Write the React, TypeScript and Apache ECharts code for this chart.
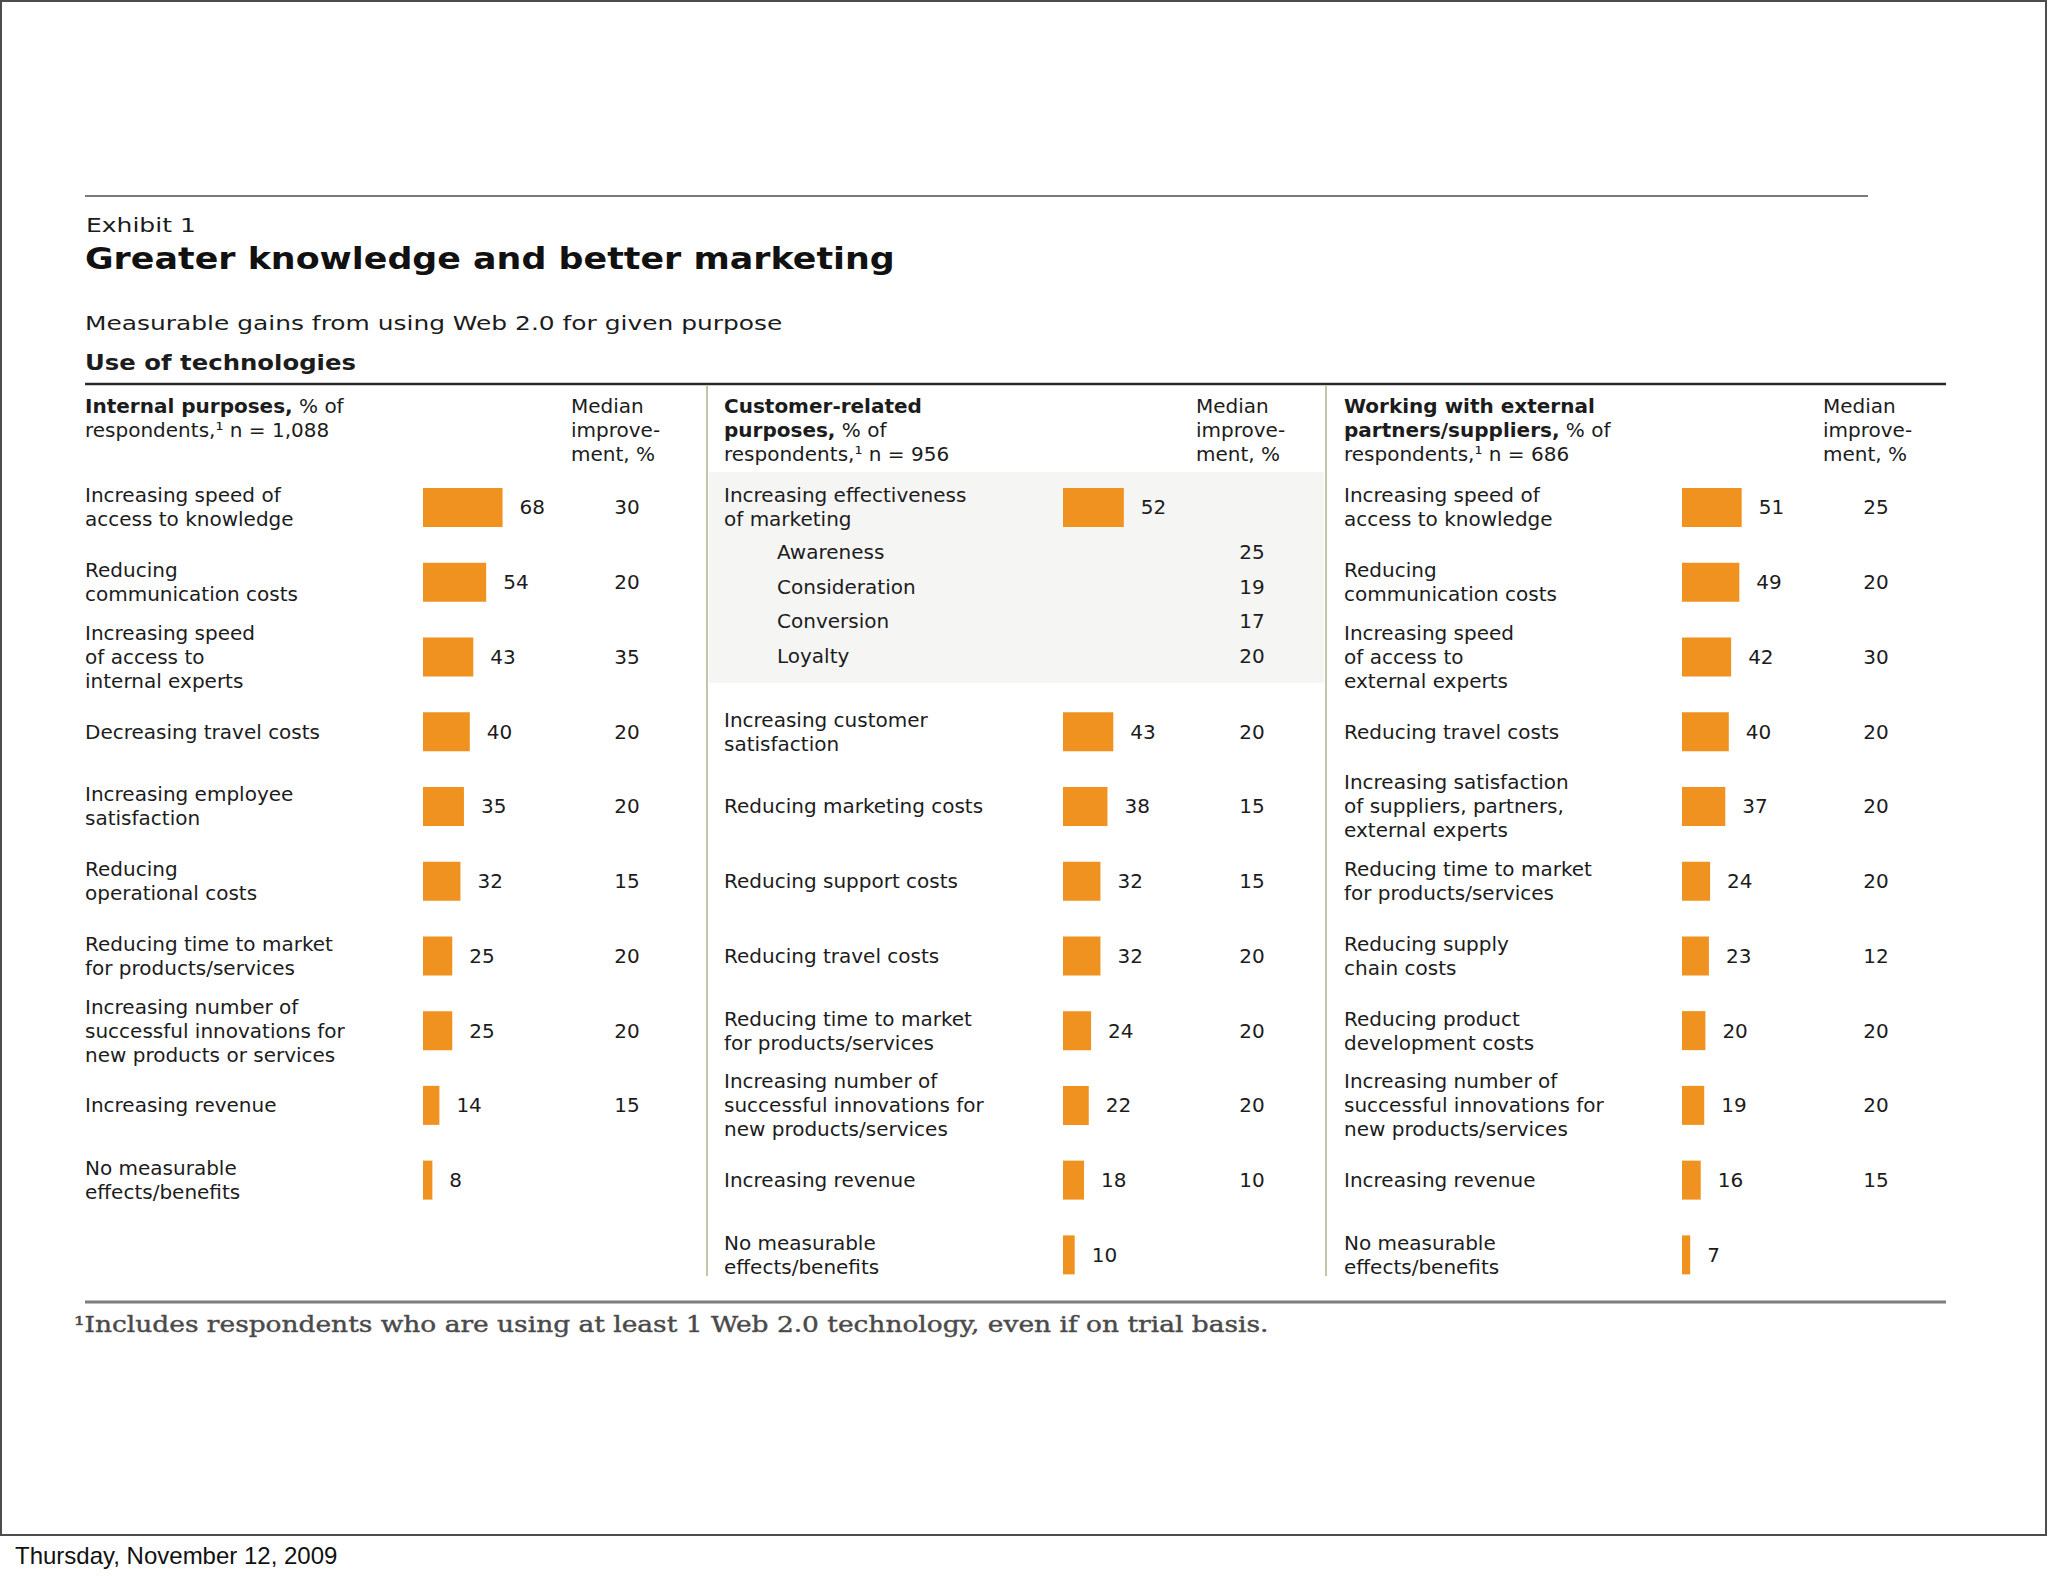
import React, { useEffect, useRef } from "react";
import * as echarts from "echarts";

// ---------------- data ----------------
const internalLabels = [
  "Increasing speed of\naccess to knowledge",
  "Reducing\ncommunication costs",
  "Increasing speed\nof access to\ninternal experts",
  "Decreasing travel costs",
  "Increasing employee\nsatisfaction",
  "Reducing\noperational costs",
  "Reducing time to market\nfor products/services",
  "Increasing number of\nsuccessful innovations for\nnew products or services",
  "Increasing revenue",
  "No measurable\neffects/benefits",
];
const internalValues = [68, 54, 43, 40, 35, 32, 25, 25, 14, 8];
const internalMedians = ["30", "20", "35", "20", "20", "15", "20", "20", "15", ""];

const customerLabels = [
  "Increasing effectiveness\nof marketing",
  "Increasing customer\nsatisfaction",
  "Reducing marketing costs",
  "Reducing support costs",
  "Reducing travel costs",
  "Reducing time to market\nfor products/services",
  "Increasing number of\nsuccessful innovations for\nnew products/services",
  "Increasing revenue",
  "No measurable\neffects/benefits",
];
const customerValues = [52, 43, 38, 32, 32, 24, 22, 18, 10];
const customerMedians = ["", "20", "15", "15", "20", "20", "20", "10", ""];

const marketingSubLabels = ["Awareness", "Consideration", "Conversion", "Loyalty"];
const marketingSubMedians = ["25", "19", "17", "20"];

const externalLabels = [
  "Increasing speed of\naccess to knowledge",
  "Reducing\ncommunication costs",
  "Increasing speed\nof access to\nexternal experts",
  "Reducing travel costs",
  "Increasing satisfaction\nof suppliers, partners,\nexternal experts",
  "Reducing time to market\nfor products/services",
  "Reducing supply\nchain costs",
  "Reducing product\ndevelopment costs",
  "Increasing number of\nsuccessful innovations for\nnew products/services",
  "Increasing revenue",
  "No measurable\neffects/benefits",
];
const externalValues = [51, 49, 42, 40, 37, 24, 23, 20, 19, 16, 7];
const externalMedians = ["25", "20", "30", "20", "20", "20", "12", "20", "20", "15", ""];

const panelHeaders = [
  "{b|Internal purposes,} % of\nrespondents,\u00b9 n = 1,088",
  "{b|Customer-related}\n{b|purposes,} % of\nrespondents,\u00b9 n = 956",
  "{b|Working with external}\n{b|partners/suppliers,} % of\nrespondents,\u00b9 n = 686",
];
const medianHeader = "Median\nimprove-\nment, %";

const exhibitText = "Exhibit 1";
const titleText = "Greater knowledge and better marketing";
const subtitleText = "Measurable gains from using Web 2.0 for given purpose";
const sectionText = "Use of technologies";
const footnoteText = "\u00b9Includes respondents who are using at least 1 Web 2.0 technology, even if on trial basis.";
const dateText = "Thursday, November 12, 2009";

// ---------------- layout / style ----------------
const FONT = "DejaVu Sans";
const BAR = "#F0921F";
const INK = "#1c1c1c";
const PX_PER_UNIT = 1.17;
const N_ROWS = 11;
const ROW_H = 74.75;
const ROW_TOP = 470;
const SUB_ROW_H = 34.67;
const SUB_TOP = 534.7;
const FS = 20;
const LH = 24;

function padTo<T>(arr: T[], n: number, fill: T): T[] {
  const a = arr.slice();
  while (a.length < n) a.push(fill);
  return a;
}
function withGap<T>(arr: T[], after: number, count: number, fill: T): T[] {
  return [...arr.slice(0, after), ...new Array(count).fill(fill), ...arr.slice(after)];
}

const panels = [
  {
    labels: padTo(internalLabels, N_ROWS, ""),
    values: padTo<number | null>(internalValues, N_ROWS, null),
    medians: padTo(internalMedians, N_ROWS, ""),
    labelX: 85, barX: 423, gridRight: 600, medianX: 627, headerMedianX: 571,
  },
  {
    labels: padTo(withGap(customerLabels, 1, 2, ""), N_ROWS, ""),
    values: padTo<number | null>(withGap<number | null>(customerValues, 1, 2, null), N_ROWS, null),
    medians: padTo(withGap(customerMedians, 1, 2, ""), N_ROWS, ""),
    labelX: 724, barX: 1063, gridRight: 1220, medianX: 1252, headerMedianX: 1196,
  },
  {
    labels: padTo(externalLabels, N_ROWS, ""),
    values: padTo<number | null>(externalValues, N_ROWS, null),
    medians: padTo(externalMedians, N_ROWS, ""),
    labelX: 1344, barX: 1682, gridRight: 1840, medianX: 1876, headerMedianX: 1823,
  },
];

const labelStyle = { fontFamily: FONT, fontSize: FS, lineHeight: LH, color: INK };

function buildOption() {
  const grid: any[] = [];
  const xAxis: any[] = [];
  const yAxis: any[] = [];
  const series: any[] = [];
  const hidden = { axisLine: { show: false }, axisTick: { show: false }, splitLine: { show: false } };

  panels.forEach((p, i) => {
    const w = p.gridRight - p.barX;
    grid.push({ left: p.barX, top: ROW_TOP, width: w, height: N_ROWS * ROW_H });
    xAxis.push({ type: "value", gridIndex: i, min: 0, max: w / PX_PER_UNIT, show: false });
    yAxis.push({
      type: "category", gridIndex: i, inverse: true, data: p.labels, ...hidden,
      axisLabel: { ...labelStyle, interval: 0, align: "left", margin: p.barX - p.labelX },
    });
    yAxis.push({
      type: "category", gridIndex: i, inverse: true, position: "right", data: p.medians, ...hidden,
      axisLabel: { ...labelStyle, interval: 0, align: "center", margin: p.medianX - p.gridRight },
    });
    series.push({
      type: "bar", xAxisIndex: i, yAxisIndex: 2 * i, data: p.values, barWidth: 39,
      itemStyle: { color: BAR },
      label: { show: true, position: "right", distance: 17, fontFamily: FONT, fontSize: FS, color: INK },
      silent: true,
    });
  });

  // sub-rows of "Increasing effectiveness of marketing"
  const p2 = panels[1];
  const gi = panels.length;
  grid.push({ left: p2.barX, top: SUB_TOP, width: p2.gridRight - p2.barX, height: marketingSubLabels.length * SUB_ROW_H });
  xAxis.push({ type: "value", gridIndex: gi, min: 0, max: 1, show: false });
  yAxis.push({
    type: "category", gridIndex: gi, inverse: true, data: marketingSubLabels, ...hidden,
    axisLabel: { ...labelStyle, interval: 0, align: "left", margin: p2.barX - 777 },
  });
  yAxis.push({
    type: "category", gridIndex: gi, inverse: true, position: "right", data: marketingSubMedians, ...hidden,
    axisLabel: { ...labelStyle, interval: 0, align: "center", margin: p2.medianX - p2.gridRight },
  });
  series.push({
    type: "bar", xAxisIndex: gi, yAxisIndex: 2 * gi, data: marketingSubLabels.map(() => null), silent: true,
  });

  const txt = (x: number, y: number, text: string, extra: any = {}, el: any = {}) => ({
    type: "text", x, y, silent: true, ...el,
    style: { text, fontFamily: FONT, fontSize: FS, fill: INK, textAlign: "left", textVerticalAlign: "middle", ...extra },
  });

  const graphic: any[] = [
    { type: "rect", silent: true, z: -10, shape: { x: 1, y: 1, width: 2045, height: 1534 }, style: { fill: "none", stroke: "#4d4d4d", lineWidth: 2 } },
    txt(15, 1555, dateText, { fontFamily: "Liberation Sans", fontSize: 24, fill: "#111" }),
    { type: "line", silent: true, shape: { x1: 85, y1: 196, x2: 1868, y2: 196 }, style: { stroke: "#7a7a7a", lineWidth: 2 } },
    txt(86, 225, exhibitText, { fontSize: 20 }, { scaleX: 1.25 }),
    txt(85, 258, titleText, { fontSize: 31, fontWeight: "bold", fill: "#111" }, { scaleX: 1.125 }),
    txt(85, 323, subtitleText, { fontSize: 20 }, { scaleX: 1.245 }),
    txt(85, 363, sectionText, { fontSize: 21, fontWeight: "bold" }, { scaleX: 1.16 }),
    { type: "line", silent: true, shape: { x1: 85, y1: 384, x2: 1946, y2: 384 }, style: { stroke: "#2a2a2a", lineWidth: 2.5 } },
    { type: "rect", silent: true, z: -5, shape: { x: 709, y: 472, width: 615, height: 211 }, style: { fill: "#F5F5F4" } },
    { type: "line", silent: true, shape: { x1: 707, y1: 386, x2: 707, y2: 1276 }, style: { stroke: "#C3C5A9", lineWidth: 2 } },
    { type: "line", silent: true, shape: { x1: 1326, y1: 386, x2: 1326, y2: 1276 }, style: { stroke: "#C3C5A9", lineWidth: 2 } },
    { type: "line", silent: true, shape: { x1: 85, y1: 1302, x2: 1946, y2: 1302 }, style: { stroke: "#7d7d7d", lineWidth: 3 } },
    txt(74, 1324, footnoteText, { fontFamily: "DejaVu Serif", fontSize: 23, fill: "#4a4a4a", stroke: "#6a6a6a", lineWidth: 0.5 }, { scaleX: 1.15 }),
  ];
  panels.forEach((p, i) => {
    graphic.push(txt(p.labelX, 393.5, panelHeaders[i], {
      textVerticalAlign: "top", lineHeight: LH,
      rich: { b: { fontFamily: FONT, fontSize: FS, fontWeight: "bold", lineHeight: LH, fill: INK } },
    }));
    graphic.push(txt(p.headerMedianX, 393.5, medianHeader, { textVerticalAlign: "top", lineHeight: LH }));
  });

  return {
    animation: false,
    backgroundColor: "#ffffff",
    grid, xAxis, yAxis, series, graphic,
  };
}

export default function App() {
  const ref = useRef<HTMLDivElement>(null);
  useEffect(() => {
    if (!ref.current) return;
    const chart = echarts.init(ref.current, undefined, { renderer: "svg" });
    chart.setOption(buildOption() as any);
    return () => chart.dispose();
  }, []);
  return (
    <div
      ref={ref}
      style={{ position: "absolute", left: 0, top: 0, width: 2048, height: 1576, background: "#fff" }}
    />
  );
}
